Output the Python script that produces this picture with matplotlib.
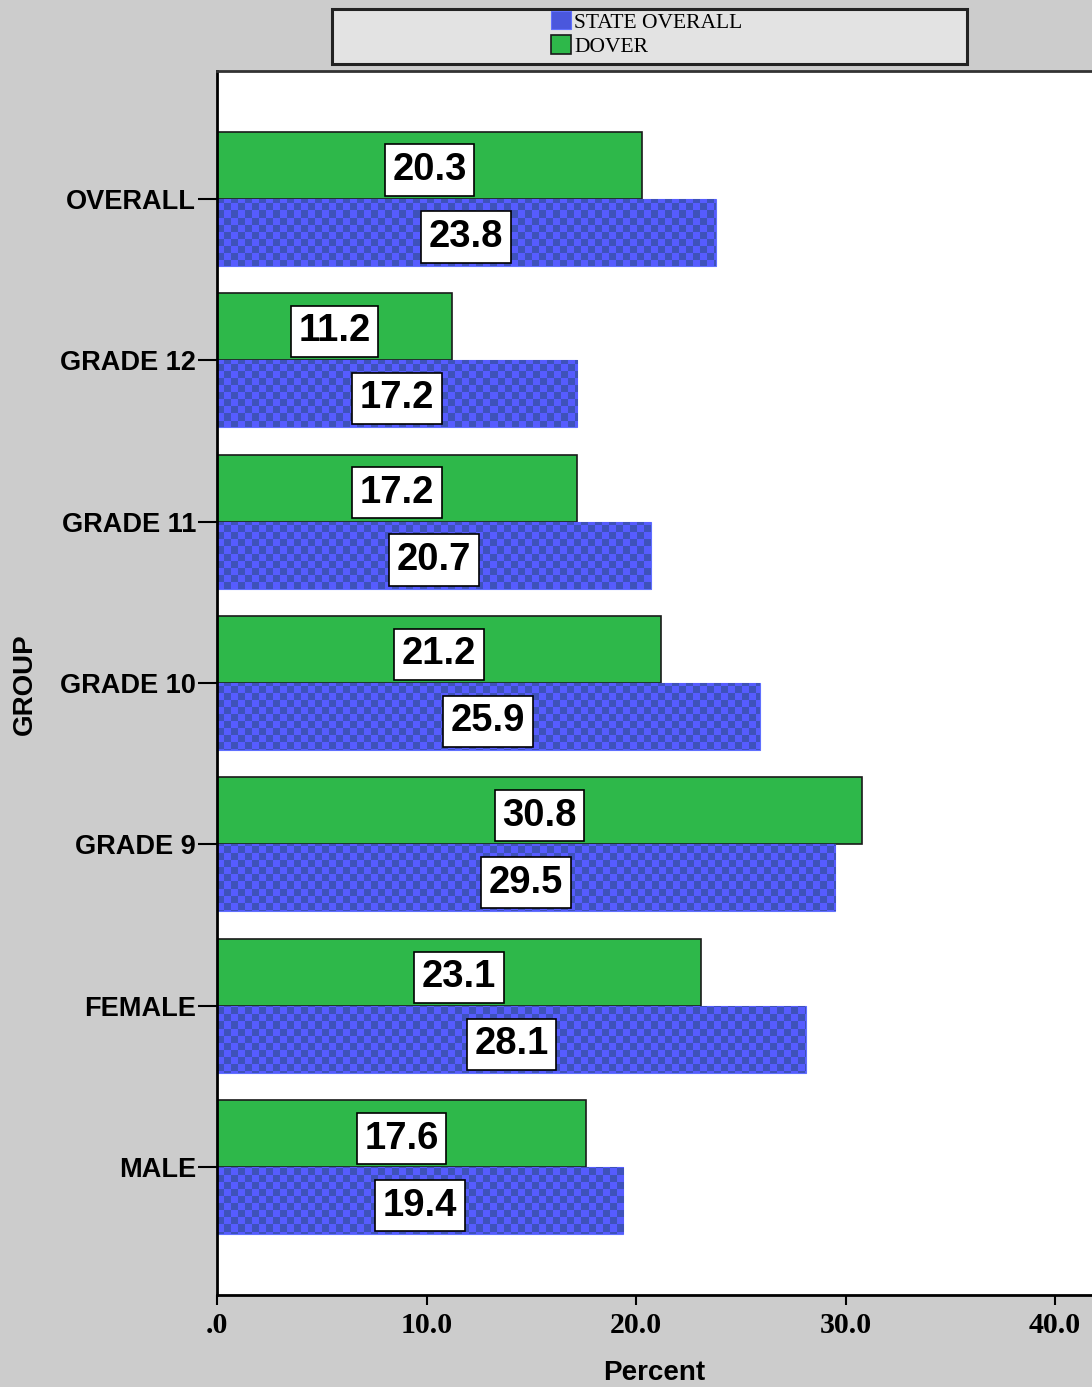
import numpy as np
import matplotlib
matplotlib.use("Agg")
import matplotlib.pyplot as plt
from matplotlib.patches import Rectangle

categories = ["MALE", "FEMALE", "GRADE 9", "GRADE 10", "GRADE 11", "GRADE 12", "OVERALL"]
dover = [17.6, 23.1, 30.8, 21.2, 17.2, 11.2, 20.3]
state = [19.4, 28.1, 29.5, 25.9, 20.7, 17.2, 23.8]
series_names = ["STATE OVERALL", "DOVER"]
xticks = [0, 10, 20, 30, 40]
xtick_labels = [".0", "10.0", "20.0", "30.0", "40.0"]

BG = "#cccccc"
GREEN = "#2eb84a"
BLUE_L = np.array([86, 92, 255]) / 255
BLUE_D = np.array([62, 82, 186]) / 255

fig = plt.figure(figsize=(10.92, 13.87), dpi=100, facecolor=BG)
ax = fig.add_axes([217 / 1092, 1 - 1295 / 1387, 1 - 217 / 1092, (1295 - 71) / 1387])
ax.set_facecolor("white")

y = np.arange(len(categories))
h = 0.415
xmax = (1092 - 217) / 20.95
ax.set_xlim(0, xmax)
ax.set_ylim(-0.79, len(categories) - 1 + 0.79)

gbars = ax.barh(y, dover, height=h, align="edge", color=GREEN, edgecolor="#1a1a1a",
                linewidth=1.2, label=series_names[1], zorder=2)
bbars = ax.barh(y - h, state, height=h, align="edge", color=tuple((BLUE_L + BLUE_D) / 2),
                edgecolor="#6070ff", linewidth=0.8, label=series_names[0], zorder=2)

# checkerboard fill for state bars
ny, nx = 175, 125
ii, jj = np.mgrid[0:ny, 0:nx]
chk = ((ii + jj) % 2).astype(float)
img = np.where(chk[..., None] > 0, BLUE_L, BLUE_D)
ylo, yhi = ax.get_ylim()
for b in bbars:
    im = ax.imshow(img, extent=[0, xmax, ylo, yhi], aspect="auto",
                   interpolation="nearest", zorder=2.5)
    im.set_clip_path(b)

lab_font = dict(family=["Liberation Sans", "DejaVu Sans"], fontsize=27.5, fontweight="bold")
box = dict(boxstyle="square,pad=0.2", fc="white", ec="black", lw=1.2)
for b, v in zip(gbars, dover):
    ax.text(v / 2, b.get_y() + b.get_height() / 2 - 0.03, f"{v:.1f}", ha="center",
            va="center", bbox=box, zorder=4, **lab_font)
for b, v in zip(bbars, state):
    ax.text(v / 2, b.get_y() + b.get_height() / 2 - 0.03, f"{v:.1f}", ha="center",
            va="center", bbox=box, zorder=4, **lab_font)

ax.set_yticks(y)
ax.set_yticklabels(categories, family=["Liberation Sans", "DejaVu Sans"],
                   fontsize=19.5, fontweight="bold")
ax.set_xticks(xticks)
ax.set_xticklabels(xtick_labels, family=["Liberation Serif", "DejaVu Serif"],
                   fontsize=21.5, fontweight="bold")
ax.tick_params(axis="y", length=14, width=1.5, pad=1, color="black")
ax.tick_params(axis="x", length=7.5, width=1.5, pad=5, color="black")
for s in ["left", "bottom"]:
    ax.spines[s].set_linewidth(2)
    ax.spines[s].set_color("black")
ax.spines["top"].set_linewidth(2)
ax.spines["top"].set_color("#333333")
ax.spines["right"].set_visible(False)

ax.set_xlabel("Percent", family=["Liberation Sans", "DejaVu Sans"], fontsize=20,
              fontweight="bold", labelpad=15)
fig.text(25 / 1092, 1 - 684 / 1387, "GROUP", rotation=90, ha="center", va="center",
         family=["Liberation Sans", "DejaVu Sans"], fontsize=20, fontweight="bold")

# legend frame
fig.patches.append(Rectangle((332 / 1092, 1 - 64 / 1387), 635 / 1092, 55 / 1387,
                             transform=fig.transFigure, fc="#e3e3e3", ec="#222222",
                             lw=2.2, zorder=0))
leg = fig.legend(handles=[bbars, gbars], labels=series_names, loc="upper left",
                 bbox_to_anchor=(538 / 1092, 1 + 2 / 1387), frameon=False,
                 prop=dict(family=["Liberation Serif", "DejaVu Serif"], size=15.5),
                 handlelength=0.95, handleheight=0.95, handletextpad=0.12,
                 labelspacing=0.12, borderpad=0.1)

fig.savefig("out.png", dpi=100, facecolor=BG)
